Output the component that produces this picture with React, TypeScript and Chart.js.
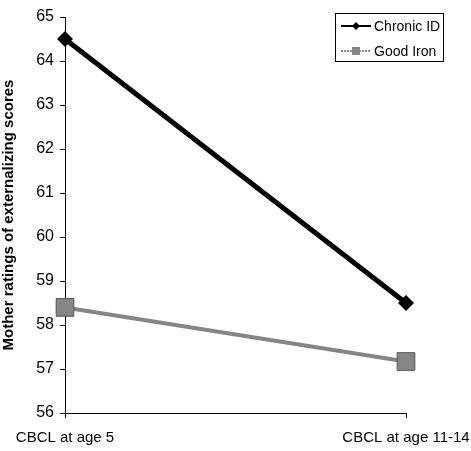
import React, { useEffect, useRef } from "react";
import { Chart, registerables } from "chart.js";

Chart.register(...registerables);

const categories = ["CBCL at age 5", "CBCL at age 11-14"];
const chronicID = [64.5, 58.5];
const goodIron = [58.4, 57.17];
const seriesNames = ["Chronic ID", "Good Iron"];
const yTitle = "Mother ratings of externalizing scores";

const legendPlugin = {
  id: "boxLegend",
  afterDraw(chart: any) {
    const ctx = chart.ctx;
    const x0 = 335, y0 = 13, w = 108, h = 48;
    ctx.save();
    ctx.fillStyle = "#fff";
    ctx.fillRect(x0, y0, w, h);
    ctx.strokeStyle = "#000";
    ctx.lineWidth = 1;
    ctx.strokeRect(x0 + 0.5, y0 + 0.5, w, h);
    const rows = [y0 + 13, y0 + 38];
    chart.data.datasets.forEach((ds: any, i: number) => {
      const y = rows[i];
      ctx.strokeStyle = i === 0 ? "#000" : "#666";
      ctx.lineWidth = i === 0 ? 2 : 1.5;
      if (i === 1) ctx.setLineDash([2, 1]);
      ctx.beginPath();
      ctx.moveTo(x0 + 6, y);
      ctx.lineTo(x0 + 36, y);
      ctx.stroke();
      ctx.setLineDash([]);
      ctx.fillStyle = ds.pointBackgroundColor;
      if (i === 0) {
        ctx.beginPath();
        ctx.moveTo(x0 + 21, y - 4);
        ctx.lineTo(x0 + 25, y);
        ctx.lineTo(x0 + 21, y + 4);
        ctx.lineTo(x0 + 17, y);
        ctx.closePath();
        ctx.fill();
      } else {
        ctx.fillRect(x0 + 17, y - 4, 8, 8);
      }
      ctx.fillStyle = "#000";
      ctx.font = "14px Arial, 'Liberation Sans', sans-serif";
      ctx.textBaseline = "middle";
      ctx.textAlign = "left";
      ctx.fillText(ds.label, x0 + 39, y + 1);
    });
    ctx.restore();
  },
};

export default function App() {
  const ref = useRef<HTMLCanvasElement | null>(null);
  useEffect(() => {
    document.body.style.margin = "0";
    const family = "Arial, 'Liberation Sans', sans-serif";
    const chart = new Chart(ref.current as HTMLCanvasElement, {
      type: "line",
      data: {
        labels: categories,
        datasets: [
          {
            label: seriesNames[0],
            data: chronicID,
            borderColor: "#000",
            backgroundColor: "#000",
            pointBackgroundColor: "#000",
            pointBorderColor: "#000",
            borderWidth: 5,
            pointStyle: "rectRot",
            pointRadius: 8,
            pointBorderWidth: 0,
          },
          {
            label: seriesNames[1],
            data: goodIron,
            borderColor: "#858585",
            backgroundColor: "#858585",
            pointBackgroundColor: "#858585",
            pointBorderColor: "#555",
            borderWidth: 4,
            pointStyle: "rect",
            pointRadius: 12.5,
            pointBorderWidth: 1,
          },
        ],
      },
      options: {
        animation: false,
        responsive: false,
        layout: { padding: { top: 17, right: 65, left: 0, bottom: 0 } },
        plugins: { legend: { display: false }, tooltip: { enabled: false } },
        scales: {
          x: {
            type: "category",
            offset: false,
            grid: { drawOnChartArea: false, drawTicks: true, tickLength: 5, color: "#000" },
            border: { color: "#000", width: 1 },
            ticks: { color: "#000", font: { family, size: 15 }, padding: 11, maxRotation: 0, autoSkip: false },
            afterFit: (s: any) => { s.height = 38; s.paddingRight = 0; s.paddingLeft = 0; },
          },
          y: {
            min: 56,
            max: 65,
            grid: { drawOnChartArea: false, drawTicks: true, tickLength: 5, color: "#000" },
            border: { color: "#000", width: 1 },
            ticks: { color: "#000", font: { family, size: 16 }, stepSize: 1, padding: 6 },
            title: {
              display: true,
              text: yTitle,
              color: "#000",
              font: { family, size: 15, weight: "bold" },
              padding: { top: 0, bottom: 0 },
            },
            afterFit: (s: any) => { s.width = 65; s.paddingTop = 0; s.paddingBottom = 0; },
          },
        },
      },
      plugins: [legendPlugin],
    } as any);
    return () => chart.destroy();
  }, []);
  return (
    <div style={{ position: "absolute", left: 0, top: 0, width: 471, height: 451, background: "#fff" }}>
      <canvas ref={ref} width={471} height={451} style={{ width: 471, height: 451 }} />
    </div>
  );
}
